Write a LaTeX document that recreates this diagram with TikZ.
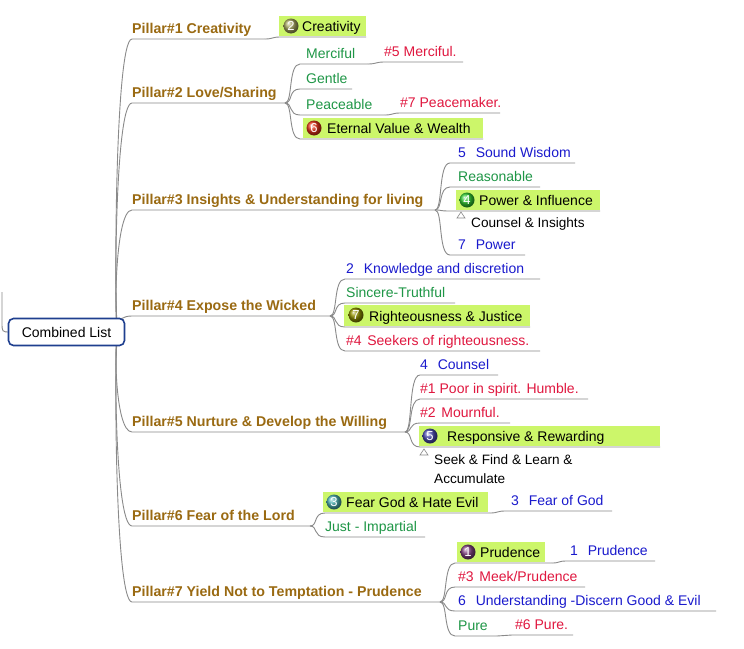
\documentclass[tikz,border=0pt]{standalone}
\usepackage{fontspec}
\setmainfont{Liberation Sans}
\usetikzlibrary{shapes.misc}
\definecolor{pil}{HTML}{9A6A12}
\definecolor{grn}{HTML}{1E9646}
\definecolor{rd}{HTML}{E0173F}
\definecolor{bl}{HTML}{1A1ACD}
\definecolor{hl}{HTML}{CCF66A}
\definecolor{lnc}{HTML}{8A8A8A}
\definecolor{rootb}{HTML}{1F3F8F}
\tikzset{
  ln/.style={draw=lnc,line width=0.9pt},
  t/.style={anchor=base west,inner sep=0pt,font=\fontsize{14}{16}\selectfont},
  pt/.style={t,text=pil,font=\fontsize{14.2}{16}\selectfont\bfseries},
  nt/.style={anchor=base west,inner sep=0pt,font=\fontsize{13.6}{15}\selectfont},
  num/.style={inner sep=0pt,text=white,font=\fontsize{13}{14}\selectfont},
}
\newcommand\br[4]{\draw[ln] (#1,#2) .. controls ({#1+8},#2) and ({#1+3},#3) .. ({#1+15},#3) -- (#4,#3);}
\newcommand\sconn[5]{\draw[ln] (#1,#2) .. controls ({#1+8},#2) and ({#3-8},#4) .. (#3,#4) -- (#5,#4);}
\newcommand\pil[2]{\draw[ln] (hub) .. controls (114,332) and (114,#1) .. (132,#1) -- (#2,#1);}
\begin{document}
\begin{tikzpicture}[x=1pt,y=-1pt]
\useasboundingbox (0,0) rectangle (744,648);
\fill[white] (0,0) rectangle (744,648);
\coordinate (hub) at (118,332);
% pillars
\pil{39}{265}\pil{103}{285}\pil{210}{435}\pil{316}{330}\pil{432}{405}\pil{526}{310}\pil{602}{440}
\node[pt] (p1) at (132,33) {Pillar\#1 Creativity};
\node[pt] (p2) at (132,97) {Pillar\#2 Love/Sharing};
\node[pt] (p3) at (132,204) {Pillar\#3 Insights \& Understanding for living};
\node[pt] (p4) at (132,310) {Pillar\#4 Expose the Wicked};
\node[pt] (p5) at (132,426) {Pillar\#5 Nurture \& Develop the Willing};
\node[pt] (p6) at (132,520) {Pillar\#6 Fear of the Lord};
\node[pt] (p7) at (132,596) {Pillar\#7 Yield Not to Temptation - Prudence};
% root
\draw[lnc,line width=0.9pt] (2,292) -- (2,322) .. controls (2,332) .. (10,332);
\node[draw=rootb,line width=1.6pt,rounded corners=5pt,fill=white,minimum width=116pt,minimum height=27pt,inner sep=0pt,font=\fontsize{14}{16}\selectfont] (root) at (66.5,332) {Combined List};
% P1
\sconn{265}{39}{280}{37}{366}
\fill[hl] (279,16) rectangle (366,36);
\coordinate (c2) at (291,26);
\shade[ball color=gray!60!olive!70] (c2) circle (7.5);
\node[num] (n2) at (c2) {2};
\node[t] (i11) at (302,31) {Creativity};
% P2
\br{285}{103}{64}{368}\br{285}{103}{89}{352}\br{285}{103}{115}{385}\br{285}{103}{139}{483}
\sconn{368}{64}{384}{62}{463}
\sconn{385}{115}{400}{113}{500}
\node[t,text=grn] (i21) at (306,58) {Merciful};
\node[t,text=rd] (i21b) at (384,56) {\#5 Merciful.};
\node[t,text=grn] (i22) at (306,83) {Gentle};
\node[t,text=grn] (i23) at (306,109) {Peaceable};
\node[t,text=rd] (i23b) at (400,107) {\#7 Peacemaker.};
\fill[hl] (303,118) rectangle (483,138);
\coordinate (c6) at (314,128);
\shade[ball color=red!60!brown] (c6) circle (7.5);
\node[num] (n6) at (c6) {6};
\node[t] (i24) at (327,133) {Eternal Value \& Wealth};
% P3
\br{435}{210}{163}{575}\br{435}{210}{187}{540}\br{435}{210}{211}{600}\br{435}{210}{255}{525}
\node[t,text=bl] (i31) at (458,157) {5\hspace{0.7em}Sound Wisdom};
\node[t,text=grn] (i32) at (458,181) {Reasonable};
\fill[hl] (456,190) rectangle (600,210);
\coordinate (c4) at (467,200);
\shade[ball color=green!60!gray] (c4) circle (7.5);
\node[num] (n4) at (c4) {4};
\node[t] (i33) at (479,205) {Power \& Influence};
\draw[lnc,line width=0.6pt] (457,218) -- (465,218) -- (461,212) -- cycle;
\node[nt] (i33n) at (471,227) {Counsel \& Insights};
\node[t,text=bl] (i34) at (458,249) {7\hspace{0.7em}Power};
% P4
\br{330}{316}{279}{540}\br{330}{316}{303}{455}\br{330}{316}{327}{530}\br{330}{316}{351}{540}
\node[t,text=bl] (i41) at (346,273) {2\hspace{0.7em}Knowledge and discretion};
\node[t,text=grn] (i42) at (346,297) {Sincere-Truthful};
\fill[hl] (344,305) rectangle (530,326);
\coordinate (c7) at (356,315);
\shade[ball color=olive!70!gray!90] (c7) circle (7.5);
\node[num] (n7) at (c7) {7};
\node[t] (i43) at (369,321) {Righteousness \& Justice};
\node[t,text=rd] (i44) at (346,345) {\#4\hspace{0.4em}Seekers of righteousness.};
% P5
\br{405}{432}{375}{498}\br{405}{432}{399}{588}\br{405}{432}{423}{510}\br{405}{432}{447}{660}
\node[t,text=bl] (i51) at (420,369) {4\hspace{0.7em}Counsel};
\node[t,text=rd] (i52) at (420,393) {\#1 Poor in spirit. Humble.};
\node[t,text=rd] (i53) at (420,417) {\#2\hspace{0.4em}Mournful.};
\fill[hl] (419,426) rectangle (660,446);
\coordinate (c5) at (430,436);
\shade[ball color=blue!40!gray] (c5) circle (7.5);
\node[num] (n5) at (c5) {5};
\node[t] (i54) at (447,441) {Responsive \& Rewarding};
\draw[lnc,line width=0.6pt] (420,455) -- (428,455) -- (424,449) -- cycle;
\node[nt] (i54n) at (434,464) {Seek \& Find \& Learn \&};
\node[nt] (i54m) at (434,483) {Accumulate};
% P6
\br{310}{526}{513}{490}\br{310}{526}{537}{425}
\sconn{490}{513}{505}{511}{612}
\fill[hl] (323,492) rectangle (488,512);
\coordinate (c3) at (334,502);
\shade[ball color=cyan!40!gray] (c3) circle (7.5);
\node[num] (n3) at (c3) {3};
\node[t] (i61) at (346,507) {Fear God \& Hate Evil};
\node[t,text=bl] (i61b) at (511,505) {3\hspace{0.7em}Fear of God};
\node[t,text=grn] (i62) at (325,531) {Just - Impartial};
% P7
\br{440}{602}{563}{552}\br{440}{602}{587}{585}\br{440}{602}{611}{716}\br{440}{602}{636}{497}
\sconn{552}{563}{566}{561}{655}
\sconn{497}{636}{512}{635}{573}
\fill[hl] (457,542) rectangle (545,562);
\coordinate (c1) at (468,552);
\shade[ball color=violet!50!gray] (c1) circle (7.5);
\node[num] (n1) at (c1) {1};
\node[t] (i71) at (480,557) {Prudence};
\node[t,text=bl] (i71b) at (570,555) {1\hspace{0.7em}Prudence};
\node[t,text=rd] (i72) at (458,581) {\#3\hspace{0.4em}Meek/Prudence};
\node[t,text=bl] (i73) at (458,605) {6\hspace{0.7em}Understanding -Discern Good \& Evil};
\node[t,text=grn] (i74) at (458,630) {Pure};
\node[t,text=rd] (i74b) at (515,629) {\#6 Pure.};
\end{tikzpicture}
\end{document}
